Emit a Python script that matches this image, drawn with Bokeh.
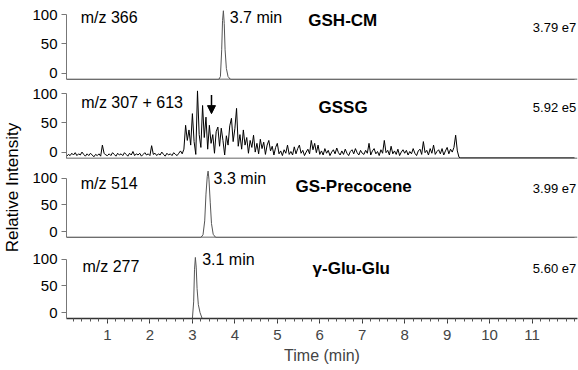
import numpy as np
from bokeh.plotting import figure
from bokeh.layouts import row, column
from bokeh.models import Range1d, FixedTicker, Label, Span, Arrow, NormalHead
from bokeh.embed import file_html
from bokeh.resources import INLINE

FONT = "Liberation Sans"

# ---------------- data ----------------
x_ticks = [1, 2, 3, 4, 5, 6, 7, 8, 9, 10, 11]
y_ticks = [0, 50, 100]

# GSH-CM, m/z 366
gshcm_t = [0.04, 3.62, 3.66, 3.69, 3.71, 3.73, 3.75, 3.77, 3.80, 3.84, 3.90, 12.0]
gshcm_y = [-11, -11, -6, 40, 90, 107, 85, 40, 8, -6, -11, -11]

# GSSG, m/z 307 + 613 (scans every 0.04 min from 0.04 to 9.32 min, then flat)
gssg_start, gssg_step = 0.04, 0.04
gssg_y = [
    -7, -4, -6, -2, -5, -1, -6, -3, -5, 0, -4, -7, -3, -6, -2, -5, -8, -4, -6, -3, -7, 12, -2, -5, -6,
    -3, -6, -1, -4, -7, -2, -5, -3, -6, -1, -4, -7, -2, -5, 1, -6, -3, -5, -2, -7, -4, -1, -5, -3, -6,
    11, -4, -2, -6, -3, -5, 0, -4, -7, -2, -5, -3, -6, -1, -4, -6, -2, 2, -3, 5, 46, 20, 38, 12, 66,
    18, -4, 105, 30, 8, 80, 25, 60, 5, 46, 15, 30, -2, 35, 43, 10, 41, 20, -5, 28, 12, 45, 58, 18, 40,
    75, 10, 30, 5, 38, 12, 25, -2, 20, 8, 29, 0, 15, -3, 22, 6, 17, -4, 12, 20, 2, 10, -5, 8, 15,
    -3, 2, -6, 4, -2, 12, -4, 1, -5, 9, -3, 6, 12, -2, 3, -6, 0, 5, -3, 20, 4, 15, -1, 12, -4,
    2, -5, 6, -2, 3, -6, 0, 4, -3, 7, -1, -5, 2, -4, 5, -2, -6, 1, 4, -3, 6, -1, -5, 3, -2,
    -4, 3, -2, 15, -5, 2, 6, -3, 1, -6, 4, -2, 20, -1, 3, -5, 10, -3, 2, -4, 5, -6, 0, 4, -2,
    3, -5, 1, -3, 6, -2, -6, 2, 5, -4, 18, -1, 3, -5, 6, -2, 12, -4, 1, 4, -3, 6, -5, 2, 8,
    -3, 5, 0, 8, 29, 2, -9, -10,
]
gssg_end_t, gssg_end_y = 12.0, -10

# GS-Precocene, m/z 514
gsp_t = [0.04, 3.20, 3.25, 3.29, 3.32, 3.35, 3.37, 3.39, 3.42, 3.45, 3.49, 3.55, 12.0]
gsp_y = [-11, -11, -6, 20, 70, 103, 113, 98, 55, 15, -5, -11, -11]

# gamma-Glu-Glu, m/z 277
gg_t = [0.04, 3.00, 3.03, 3.05, 3.07, 3.09, 3.11, 3.14, 3.18, 3.23, 12.0]
gg_y = [-11, -11, 20, 80, 103, 85, 45, 15, 0, -11, -11]

gssg_t = [gssg_start + gssg_step * i for i in range(len(gssg_y))] + [gssg_end_t]
gssg_y_full = gssg_y + [gssg_end_y]

# ---------------- layout ----------------
x_range = Range1d(0.035, 12.07)
YMIN, YMAX = -11, 116


def make_panel(border_top, border_bottom, height, show_x):
    p = figure(width=556, height=height, x_range=x_range, y_range=Range1d(YMIN, YMAX),
               output_backend="svg", toolbar_location=None,
               min_border_left=44, min_border_right=1,
               min_border_top=border_top, min_border_bottom=border_bottom)
    p.outline_line_color = None
    p.grid.visible = False
    p.background_fill_color = "white"
    ya = p.yaxis[0]
    ya.ticker = FixedTicker(ticks=y_ticks)
    ya.bounds = (YMIN, 100)
    ya.axis_line_color = "#777777"
    ya.major_tick_line_color = "#777777"
    ya.major_tick_out = 5
    ya.major_tick_in = 0
    ya.minor_tick_out = 0
    ya.minor_tick_in = 0
    ya.major_label_standoff = 4
    ya.major_label_text_font = FONT
    ya.major_label_text_font_size = "15px"
    ya.major_label_text_color = "black"
    if show_x:
        xa = p.xaxis[0]
        xa.ticker = FixedTicker(ticks=x_ticks,
                                minor_ticks=[round(0.2 * k, 1) for k in range(1, 61)])
        xa.axis_line_color = "#333333"
        xa.axis_line_width = 1.3
        xa.major_tick_line_color = "#333333"
        xa.minor_tick_line_color = "#555555"
        xa.major_tick_out = 5
        xa.major_tick_in = 0
        xa.minor_tick_out = 3
        xa.minor_tick_in = 0
        xa.major_label_standoff = 6
        xa.major_label_text_font = FONT
        xa.major_label_text_font_size = "15px"
        xa.axis_label = "Time (min)"
        xa.axis_label_text_font = FONT
        xa.axis_label_text_font_size = "16px"
        xa.axis_label_text_font_style = "normal"
        xa.axis_label_standoff = 4
    else:
        p.xaxis.visible = False
        p.add_layout(Span(location=YMIN, dimension="width", line_color="#333333", line_width=1.3))
    return p


def add_text(p, x, y, text, size="16px", bold=False, align="left"):
    p.add_layout(Label(x=x, y=y, text=text, text_font=FONT, text_font_size=size,
                       text_font_style=("bold" if bold else "normal"),
                       text_align=align, text_baseline="middle", text_color="black"))


p1 = make_panel(5, 4, 83, False)
p1.line(gshcm_t, gshcm_y, line_color="#555555", line_width=1)
add_text(p1, 0.37, 95, "m/z 366")
add_text(p1, 3.88, 95, "3.7 min")
add_text(p1, 5.73, 90, "GSH-CM", size="17px", bold=True)
add_text(p1, 12.04, 78, "3.79 e7", size="13px", align="right")

p2 = make_panel(1, 4, 79, False)
p2.line(gssg_t, gssg_y_full, line_color="black", line_width=1)
add_text(p2, 0.38, 85, "m/z 307 + 613")
add_text(p2, 5.97, 76, "GSSG", size="17px", bold=True)
add_text(p2, 12.04, 76, "5.92 e5", size="13px", align="right")
p2.add_layout(Arrow(x_start=3.45, y_start=98, x_end=3.45, y_end=66, line_color="black",
                    line_width=1.5,
                    end=NormalHead(size=8, fill_color="black", line_color="black")))

p3 = make_panel(7, 4, 79, False)
p3.line(gsp_t, gsp_y, line_color="#555555", line_width=1)
add_text(p3, 0.37, 89, "m/z 514")
add_text(p3, 3.5, 100, "3.3 min")
add_text(p3, 5.43, 85, "GS-Precocene", size="17px", bold=True)
add_text(p3, 12.04, 80, "3.99 e7", size="13px", align="right")

p4 = make_panel(9, 52, 129, True)
p4.line(gg_t, gg_y, line_color="#555555", line_width=1)
add_text(p4, 0.41, 87, "m/z 277")
add_text(p4, 3.23, 100, "3.1 min")
add_text(p4, 5.83, 82, "\u03b3-Glu-Glu", size="17px", bold=True)
add_text(p4, 12.04, 82, "5.60 e7", size="13px", align="right")

lab = figure(width=22, height=370, x_range=Range1d(0, 1), y_range=Range1d(0, 1),
             x_axis_type=None, y_axis_type=None,
             output_backend="svg", toolbar_location=None, min_border=0)
lab.outline_line_color = None
lab.grid.visible = False
lab.add_layout(Label(x=12, y=183, x_units="screen", y_units="screen", text="Relative Intensity",
                     angle=np.pi / 2, text_align="center", text_baseline="middle",
                     text_font=FONT, text_font_size="17px", text_color="black"))

layout = row(lab, column(p1, p2, p3, p4))

open("out.html", "w").write(file_html(layout, INLINE))
